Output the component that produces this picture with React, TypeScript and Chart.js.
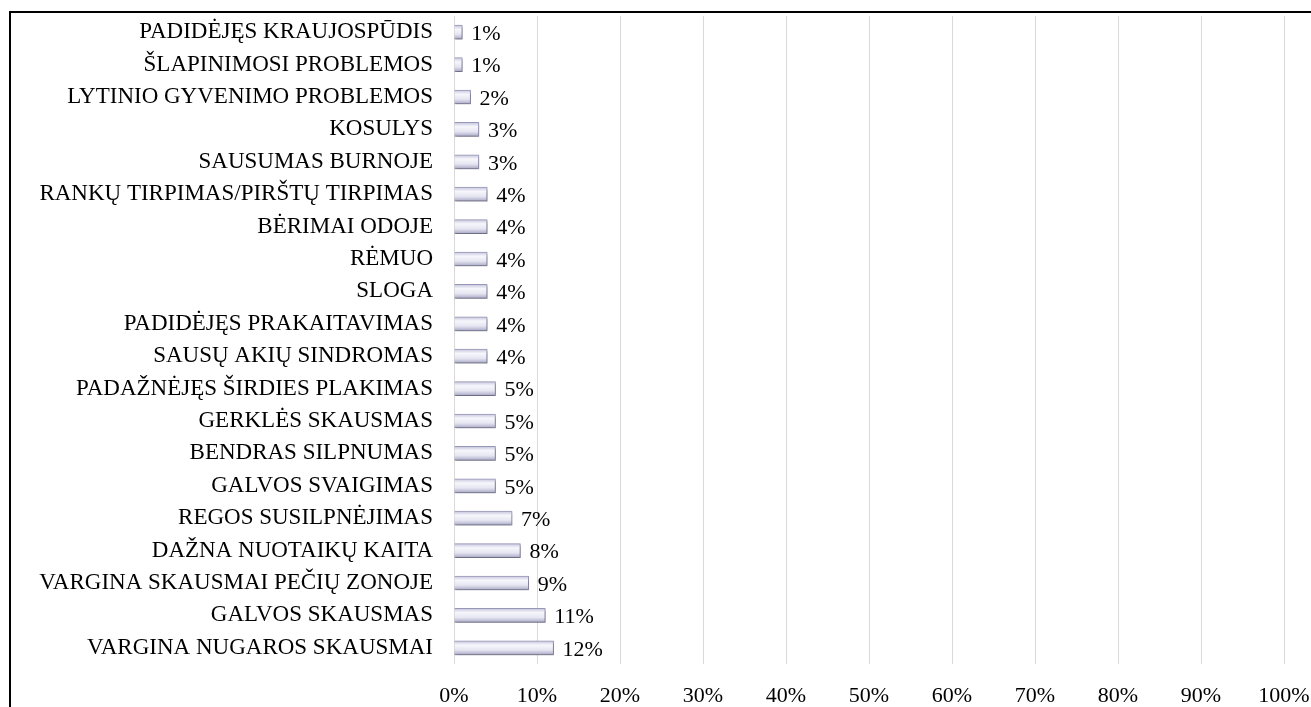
import React, { useEffect, useRef } from "react";
import { Chart, registerables } from "chart.js";

Chart.register(...registerables);

const categories: string[] = [
  "PADIDĖJĘS KRAUJOSPŪDIS",
  "ŠLAPINIMOSI PROBLEMOS",
  "LYTINIO GYVENIMO PROBLEMOS",
  "KOSULYS",
  "SAUSUMAS BURNOJE",
  "RANKŲ TIRPIMAS/PIRŠTŲ TIRPIMAS",
  "BĖRIMAI ODOJE",
  "RĖMUO",
  "SLOGA",
  "PADIDĖJĘS PRAKAITAVIMAS",
  "SAUSŲ AKIŲ SINDROMAS",
  "PADAŽNĖJĘS ŠIRDIES PLAKIMAS",
  "GERKLĖS SKAUSMAS",
  "BENDRAS SILPNUMAS",
  "GALVOS SVAIGIMAS",
  "REGOS SUSILPNĖJIMAS",
  "DAŽNA NUOTAIKŲ KAITA",
  "VARGINA SKAUSMAI PEČIŲ ZONOJE",
  "GALVOS SKAUSMAS",
  "VARGINA NUGAROS SKAUSMAI",
];

const values: number[] = [1, 1, 2, 3, 3, 4, 4, 4, 4, 4, 4, 5, 5, 5, 5, 7, 8, 9, 11, 12];

const xTicks: number[] = [0, 10, 20, 30, 40, 50, 60, 70, 80, 90, 100];

const FONT = "'Liberation Serif', 'Times New Roman', serif";

const framePlugin = {
  id: "frame",
  beforeDraw(chart: any) {
    const ctx = chart.ctx;
    ctx.save();
    ctx.fillStyle = "#ffffff";
    ctx.fillRect(0, 0, chart.width, chart.height);
    ctx.strokeStyle = "#000000";
    ctx.lineWidth = 2;
    ctx.beginPath();
    ctx.moveTo(10, chart.height + 5);
    ctx.lineTo(10, 12);
    ctx.lineTo(chart.width + 5, 12);
    ctx.stroke();
    ctx.restore();
  },
};

const shadowPlugin = {
  id: "barShadow",
  beforeDatasetsDraw(chart: any) {
    const ctx = chart.ctx;
    ctx.save();
    ctx.shadowColor = "rgba(0,0,0,0.35)";
    ctx.shadowBlur = 3;
    ctx.shadowOffsetX = 1;
    ctx.shadowOffsetY = 2;
  },
  afterDatasetsDraw(chart: any) {
    chart.ctx.restore();
  },
};

const labelPlugin = {
  id: "valueLabels",
  afterDatasetsDraw(chart: any) {
    const ctx = chart.ctx;
    const meta = chart.getDatasetMeta(0);
    ctx.save();
    ctx.font = `22px ${FONT}`;
    ctx.fillStyle = "#000000";
    ctx.textAlign = "left";
    ctx.textBaseline = "middle";
    meta.data.forEach((el: any, i: number) => {
      ctx.fillText(`${values[i]}%`, el.x + 9, el.y + 2);
    });
    ctx.restore();
  },
};

export default function App() {
  const ref = useRef<HTMLCanvasElement | null>(null);

  useEffect(() => {
    document.body.style.margin = "0";
    document.body.style.overflow = "hidden";
    const canvas = ref.current!;
    const chart = new Chart(canvas, {
      type: "bar",
      data: {
        labels: categories,
        datasets: [
          {
            data: values,
            barThickness: 14,
            backgroundColor: (c: any) => {
              const ch = c.chart;
              const y = ch.scales && ch.scales.y;
              if (!y || c.dataIndex === undefined) return "#dcdcee";
              const mid = y.getPixelForValue(c.dataIndex);
              if (!Number.isFinite(mid)) return "#dcdcee";
              const g = ch.ctx.createLinearGradient(0, mid - 7, 0, mid + 7);
              g.addColorStop(0, "#c4c4dc");
              g.addColorStop(0.3, "#f6f6fc");
              g.addColorStop(0.65, "#e6e6f2");
              g.addColorStop(1, "#a8a8c6");
              return g;
            },
            borderColor: "#9a9aba",
            borderWidth: 1,
          },
        ],
      },
      options: {
        indexAxis: "y",
        animation: false,
        responsive: false,
        maintainAspectRatio: false,
        layout: { padding: { top: 16, right: 27, left: 0, bottom: 0 } },
        plugins: {
          legend: { display: false },
          tooltip: { enabled: false },
        },
        scales: {
          x: {
            min: 0,
            max: 100,
            afterBuildTicks: (s: any) => {
              s.ticks = xTicks.map((v) => ({ value: v }));
            },
            afterFit: (s: any) => {
              s.height = 43;
              s.paddingLeft = 0;
              s.paddingRight = 0;
            },
            grid: { color: "#d9d9d9", lineWidth: 1, drawTicks: false },
            border: { display: false },
            ticks: {
              padding: 19,
              color: "#000000",
              font: { family: FONT, size: 22 },
              callback: (v: any) => `${v}%`,
              maxRotation: 0,
            },
          },
          y: {
            afterFit: (s: any) => {
              s.width = 454;
              s.paddingTop = 0;
              s.paddingBottom = 0;
            },
            grid: { display: false, drawTicks: false },
            border: { display: false },
            ticks: {
              padding: 21,
              color: "#000000",
              font: { family: FONT, size: 23 },
              autoSkip: false,
            },
          },
        },
      },
      plugins: [framePlugin, shadowPlugin, labelPlugin],
    } as any);
    chart.update();
    return () => chart.destroy();
  }, []);

  return <canvas ref={ref} width={1311} height={707} style={{ display: "block" }} />;
}
